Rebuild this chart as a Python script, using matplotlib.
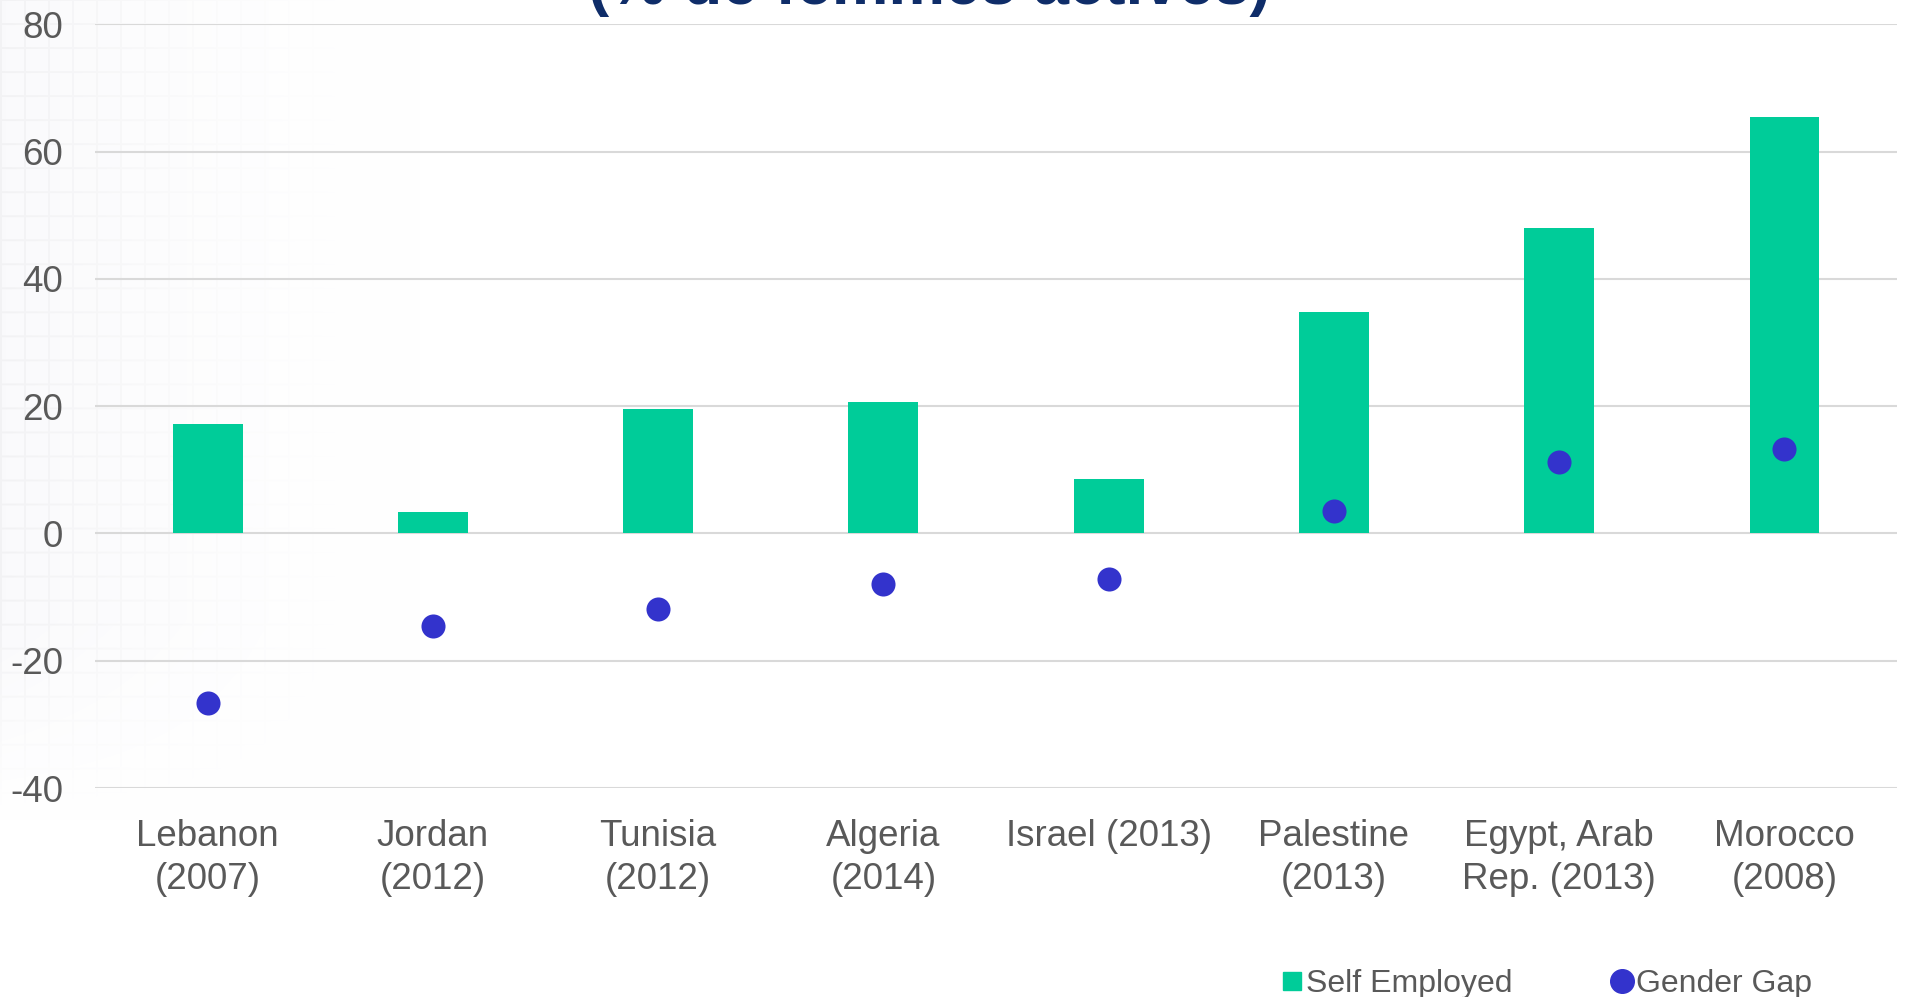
import numpy as np
import matplotlib
matplotlib.use("Agg")
import matplotlib.pyplot as plt
from matplotlib.lines import Line2D

plt.rcParams['font.family'] = ['Liberation Sans', 'DejaVu Sans']

categories = ["Lebanon\n(2007)", "Jordan\n(2012)", "Tunisia\n(2012)", "Algeria\n(2014)",
              "Israel (2013)", "Palestine\n(2013)", "Egypt, Arab\nRep. (2013)", "Morocco\n(2008)"]
self_employed = [17.2, 3.4, 19.5, 20.6, 8.6, 34.8, 48.0, 65.5]
gender_gap = [-26.6, -14.5, -11.8, -8.0, -7.1, 3.6, 11.3, 13.2]
yticks = [-40, -20, 0, 20, 40, 60, 80]
title_text = "(% de femmes actives)"

BAR = "#00CC99"
DOT = "#3333CC"
TXT = "#595959"
GRID = "#D9D9D9"

fig = plt.figure(figsize=(19.07, 9.97), dpi=100)

# faint decorative background texture on the left
bg = fig.add_axes([0, 0, 1, 1], zorder=-10)
bg.set_xlim(0, 1907); bg.set_ylim(997, 0); bg.axis('off')
W, H = 420, 997
xs = np.arange(W)
ys = np.arange(H)
X, Y = np.meshgrid(xs, ys)
fade = np.clip(1 - X / W, 0, 1) ** 1.6 * np.clip((820 - Y) / 200, 0, 1)
pattern = ((X % 24 < 2) | (Y % 24 < 2)).astype(float)
img = np.ones((H, W, 3))
shade = 0.02 * fade + 0.03 * pattern * fade
img -= shade[..., None]
img[..., 2] += 0.008 * fade
img = np.clip(img, 0, 1)
bg.imshow(img, extent=(0, W, H, 0), aspect='auto', interpolation='bilinear')

ax = fig.add_axes([0.0498, 0.2096, 0.9450, 0.766])
ax.set_facecolor('none')
x = np.arange(len(categories))
ax.bar(x, self_employed, width=0.31, color=BAR, zorder=3, label="Self Employed")
ax.scatter(x, gender_gap, s=300, color=DOT, zorder=4, label="Gender Gap", linewidths=0)

ax.set_ylim(-40, 80)
ax.set_xlim(-0.5, len(categories) - 0.5)
ax.set_yticks(yticks)
ax.set_yticklabels([str(v) for v in yticks])
ax.set_xticks(x)
ax.set_xticklabels(categories, linespacing=1.3)
ax.tick_params(axis='both', length=0, labelsize=26.5, labelcolor=TXT)
ax.tick_params(axis='y', pad=23)
ax.tick_params(axis='x', pad=22)
ax.grid(axis='y', color=GRID, linewidth=1.5, zorder=0)
ax.set_axisbelow(True)
for s in ax.spines.values():
    s.set_visible(False)

fig.text(929 / 1907, 1.0 - 4 / 997, title_text, ha='center', va='baseline',
         fontsize=45.8, fontweight='bold', color='#0F2D69')

handles = [Line2D([], [], marker='s', linestyle='none', color=BAR, markersize=13),
           Line2D([], [], marker='o', linestyle='none', color=DOT, markersize=17)]
fig.legend(handles, ["Self Employed", "Gender Gap"], loc='center',
           bbox_to_anchor=(0.8105, 0.0128), ncol=2, frameon=False,
           fontsize=23, labelcolor=TXT, handletextpad=0.05, columnspacing=3.0,
           handlelength=0.8, borderpad=0)

fig.savefig("out.png", dpi=100)
